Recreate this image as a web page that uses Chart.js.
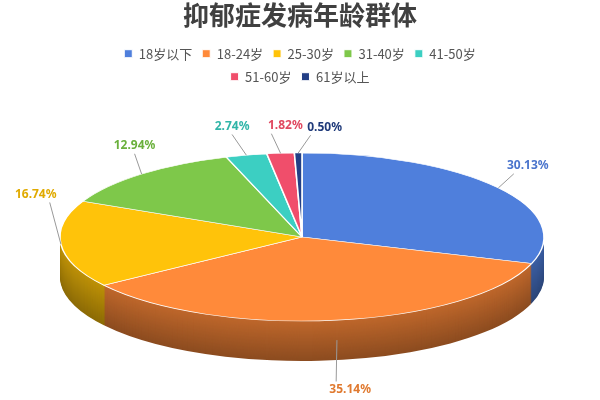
<!DOCTYPE html>
<html>
<head>
<meta charset="utf-8">
<script src="https://cdn.jsdelivr.net/npm/chart.js@4"></script>
<style>body{margin:0;background:#fff}</style>
</head>
<body>
<canvas id="pieChart" width="600" height="400"></canvas>
<script>
// Chart data
const ageGroups = ['18岁以下', '18-24岁', '25-30岁', '31-40岁', '41-50岁', '51-60岁', '61岁以上'];
const percentages = [30.13, 35.14, 16.74, 12.94, 2.74, 1.82, 0.50];
const sliceColors = ['#4f7fdc', '#ff8a3a', '#ffc30a', '#7ec84a', '#3ccfc2', '#f04e6b', '#233f86'];
const labelColors = ['#4a74cc', '#e07a30', '#e0aa00', '#6ab03c', '#30b5a8', '#e04860', '#1f3a7a'];

// where the tilted pie sits on the page
const CX = 302, CY = 237, RX = 242, RY = 84, DEPTH = 40;
// small hand nudges so the labels don't collide
const labelNudge = [[0, 0], [8, -8], [11, -53], [17, 0], [-6, 8], [8, 10], [27, 12]];

function shade(hex, f) {
    const n = parseInt(hex.slice(1), 16);
    const r = Math.round(((n >> 16) & 255) * f), g = Math.round(((n >> 8) & 255) * f), b = Math.round((n & 255) * f);
    return `rgb(${r},${g},${b})`;
}

// squash the flat pie into an ellipse and give it a side wall
const tiltPlugin = {
    id: 'tilt',
    beforeDatasetsDraw(chart) {
        const arcs = chart.getDatasetMeta(0).data;
        const ctx = chart.ctx;
        const r = arcs[0].outerRadius, x0 = arcs[0].x, y0 = arcs[0].y;
        const sx = RX / r, sy = RY / r;
        ctx.save();
        ctx.translate(CX, CY);
        ctx.scale(sx, sy);
        ctx.translate(-x0, -y0);
        for (let d = DEPTH; d > 0; d--) {
            arcs.forEach((arc, i) => {
                ctx.beginPath();
                ctx.moveTo(x0, y0 + d / sy);
                ctx.arc(x0, y0 + d / sy, r, arc.startAngle, arc.endAngle);
                ctx.closePath();
                ctx.fillStyle = shade(sliceColors[i], 0.55 + 0.2 * (1 - d / DEPTH));
                ctx.fill();
            });
        }
    },
    afterDatasetsDraw(chart) {
        const arcs = chart.getDatasetMeta(0).data;
        const ctx = chart.ctx;
        ctx.restore();
        ctx.save();
        ctx.font = 'bold 12px "Noto Sans", sans-serif';
        ctx.textBaseline = 'middle';
        ctx.textAlign = 'center';
        arcs.forEach((arc, i) => {
            const a = (arc.startAngle + arc.endAngle) / 2;
            const c = Math.cos(a), s = Math.sin(a);
            const drop = s > 0.2 ? DEPTH : 0;
            const ex = CX + c * RX, ey = CY + s * RY + drop * 0.5;
            const lx = CX + c * RX * 1.15 + labelNudge[i][0];
            const ly = CY + s * RY * 1.45 + drop + labelNudge[i][1];
            const ty = ly + (ly < ey ? 8 : -8);
            ctx.strokeStyle = '#999';
            ctx.lineWidth = 1;
            ctx.beginPath();
            ctx.moveTo(ex, ey);
            ctx.lineTo(lx + (ex < lx ? -14 : (ex > lx + 20 ? 14 : 0)), ty);
            ctx.stroke();
            ctx.fillStyle = labelColors[i];
            ctx.fillText(percentages[i].toFixed(2) + '%', lx, ly);
        });
        ctx.restore();
    }
};

new Chart(document.getElementById('pieChart').getContext('2d'), {
    type: 'pie',
    data: {
        labels: ageGroups,
        datasets: [{
            data: percentages,
            backgroundColor: sliceColors,
            borderColor: '#ffffff',
            borderWidth: 1
        }]
    },
    options: {
        responsive: false,
        animation: false,
        layout: { padding: { left: 95, right: 95 } },
        plugins: {
            title: {
                display: true,
                text: '抑郁症发病年龄群体',
                color: '#404040',
                font: { size: 26, family: '"Noto Sans CJK SC"', weight: 'bold' },
                padding: { top: 0, bottom: 6 }
            },
            legend: {
                position: 'top',
                labels: {
                    usePointStyle: true,
                    pointStyle: 'rect',
                    boxWidth: 8,
                    boxHeight: 8,
                    padding: 10,
                    color: '#555',
                    font: { size: 13, family: '"Noto Sans CJK SC"' }
                }
            },
            tooltip: { enabled: false }
        }
    },
    plugins: [tiltPlugin]
});
</script>
</body>
</html>
